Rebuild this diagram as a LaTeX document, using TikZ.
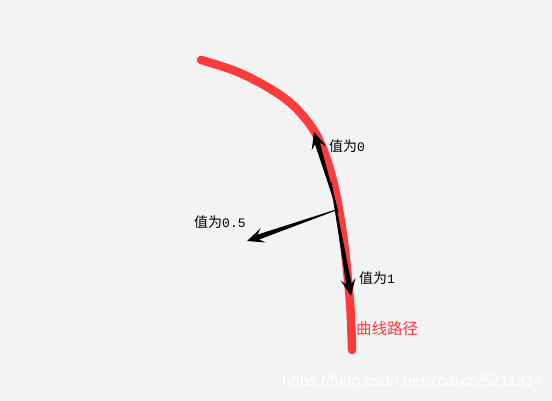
\documentclass[tikz,border=0pt]{standalone}
\usepackage{fontspec}
\newfontfamily\cjk{Noto Sans CJK SC}
\newfontfamily\monofnt{Liberation Mono}
\newfontfamily\wmfont{Liberation Sans}
\usetikzlibrary{calc}
\definecolor{bg}{HTML}{F3F3F3}
\definecolor{curvered}{HTML}{FF3B3B}
\newcommand\taperarrow[3]{%
  \coordinate (#3h) at ($(#2)!17pt!(#1)$);
  \coordinate (#3n) at ($(#2)!12pt!(#1)$);
  \fill[black] (#2) -- ($(#3h)!7.5pt!90:(#2)$) -- ($(#3n)!2.6pt!90:(#2)$)
    -- ($(#1)!0.5pt!90:(#2)$) -- ($(#1)!0.5pt!-90:(#2)$)
    -- ($(#3n)!2.6pt!-90:(#2)$) -- ($(#3h)!7.5pt!-90:(#2)$) -- cycle;}
\tikzset{
  lbl/.style={anchor=west, inner sep=0pt, font=\cjk\fontsize{14}{14}\selectfont, text=black},
  redlbl/.style={anchor=west, inner sep=0pt, font=\cjk\fontsize{15.5}{15.5}\selectfont, text=curvered},
  pathline/.style={draw=curvered, line width=8.5pt, line cap=round, line join=round},
}
\begin{document}
\begin{tikzpicture}[x=1pt,y=-1pt]
\fill[bg] (0,0) rectangle (552,401);
\useasboundingbox (0,0) rectangle (552,401);
% curve path
\draw[pathline] plot[smooth, tension=0.6] coordinates {(201,60) (240,73) (280,95) (304,117) (321,144) (334,185) (343,235) (349,290) (351,320) (352,350)};
% arrows
\coordinate (upT) at (338,212);
\coordinate (upH) at (314,132);
\coordinate (dnT) at (331,182);
\coordinate (dnH) at (351,296);
\coordinate (lfT) at (336,210);
\coordinate (lfH) at (247,241);
\taperarrow{upT}{upH}{u}
\taperarrow{dnT}{dnH}{d}
\taperarrow{lfT}{lfH}{l}
% labels
\node[lbl] (v0) at (329,146) {值为{\monofnt\fontsize{13}{13}\selectfont 0}};
\node[lbl] (v05) at (194,222) {值为{\monofnt\fontsize{13}{13}\selectfont 0.5}};
\node[lbl] (v1) at (359,278) {值为{\monofnt\fontsize{13}{13}\selectfont 1}};
\node[redlbl] (cp) at (356,329) {曲线路径};
\node[anchor=west, inner sep=0pt, text=white, font=\wmfont\fontsize{16}{16}\selectfont] (wm) at (282,382) {https://blog.csdn.net/zcaixzy5211314};
\end{tikzpicture}
\end{document}
